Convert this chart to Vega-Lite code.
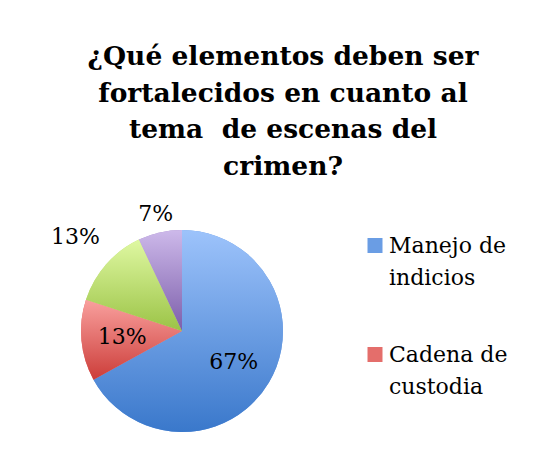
{
  "$schema": "https://vega.github.io/schema/vega-lite/v6.json",
  "width": 202,
  "height": 202,
  "autosize": "none",
  "padding": {"left": 81, "top": 230, "right": 267, "bottom": 40},
  "background": "white",
  "title": {
    "text": ["¿Qué elementos deben ser", "fortalecidos en cuanto al", "tema \u00a0de escenas del", "crimen?"],
    "font": "DejaVu Serif",
    "fontSize": 26.5,
    "fontWeight": "bold",
    "color": "black",
    "lineHeight": 36.5,
    "anchor": "middle",
    "frame": "group",
    "dx": 101,
    "offset": 1
  },
  "data": {
    "values": [
      {"cat": "Manejo de indicios", "pct": 67, "ord": 1, "label": "67%"},
      {"cat": "Cadena de custodia", "pct": 13, "ord": 2, "label": "13%"},
      {"cat": "Capacitación", "pct": 13, "ord": 3, "label": "13%"},
      {"cat": "Equipamiento", "pct": 7, "ord": 4, "label": "7%"}
    ]
  },
  "config": {
    "view": {"stroke": null},
    "style": {"guide-label": {"lineHeight": 32}}
  },
  "encoding": {
    "theta": {"field": "pct", "type": "quantitative", "stack": true},
    "order": {"field": "ord", "type": "quantitative"}
  },
  "layer": [
    {
      "mark": {"type": "arc", "stroke": null},
      "encoding": {
        "color": {
          "field": "cat",
          "type": "nominal",
          "sort": ["Manejo de indicios", "Cadena de custodia", "Capacitación", "Equipamiento"],
          "scale": {
            "domain": ["Manejo de indicios", "Cadena de custodia", "Capacitación", "Equipamiento"],
            "range": ["#6A9DE4", "#E46E6B", "#BDDD74", "#A58BCB"]
          },
          "legend": {
            "title": null,
            "values": ["Manejo de indicios", "Cadena de custodia"],
            "orient": "none",
            "legendX": 283,
            "legendY": 12,
            "symbolType": "M-1,-2L1,-2L1,0L-1,0Z",
            "symbolSize": 225,
            "symbolStrokeWidth": 0,
            "symbolOpacity": 1,
            "labelFont": "DejaVu Serif",
            "labelFontSize": 22,
            "labelColor": "black",
            "labelOffset": 3,
            "labelLimit": 300,
            "rowPadding": 55,
            "labelBaseline": "alphabetic",
            "labelExpr": "datum.label == 'Manejo de indicios' ? ['Manejo de', 'indicios'] : ['Cadena de', 'custodia']",
            "encode": {"labels": {"update": {"lineHeight": {"value": 32}}}}
          }
        }
      }
    },
    {
      "mark": {"type": "arc", "stroke": null, "fill": {"gradient": "linear", "x1": 0, "y1": 0, "x2": 0, "y2": 1, "stops": [{"offset": 0, "color": "#9DC3FB"}, {"offset": 1, "color": "#3A78CB"}]}},
      "encoding": {"opacity": {"condition": {"test": "datum.ord == 1", "value": 1}, "value": 0}}
    },
    {
      "mark": {"type": "arc", "stroke": null, "fill": {"gradient": "linear", "x1": 0, "y1": 0, "x2": 0, "y2": 1, "stops": [{"offset": 0, "color": "#F9A09E"}, {"offset": 1, "color": "#CC3D39"}]}},
      "encoding": {"opacity": {"condition": {"test": "datum.ord == 2", "value": 1}, "value": 0}}
    },
    {
      "mark": {"type": "arc", "stroke": null, "fill": {"gradient": "linear", "x1": 0, "y1": 0, "x2": 0, "y2": 1, "stops": [{"offset": 0, "color": "#DFF8A2"}, {"offset": 1, "color": "#9BC346"}]}},
      "encoding": {"opacity": {"condition": {"test": "datum.ord == 3", "value": 1}, "value": 0}}
    },
    {
      "mark": {"type": "arc", "stroke": null, "fill": {"gradient": "linear", "x1": 0, "y1": 0, "x2": 0, "y2": 1, "stops": [{"offset": 0, "color": "#CDB9EA"}, {"offset": 1, "color": "#7C5EAA"}]}},
      "encoding": {"opacity": {"condition": {"test": "datum.ord == 4", "value": 1}, "value": 0}}
    },
    {
      "mark": {"type": "text", "radius": 60, "font": "DejaVu Serif", "fontSize": 22, "color": "black"},
      "encoding": {"text": {"condition": {"test": "datum.ord <= 2", "field": "label"}, "value": ""}}
    },
    {
      "mark": {"type": "text", "radius": 142, "font": "DejaVu Serif", "fontSize": 22, "color": "black"},
      "encoding": {"text": {"condition": {"test": "datum.ord == 3", "field": "label"}, "value": ""}}
    },
    {
      "mark": {"type": "text", "radius": 120, "font": "DejaVu Serif", "fontSize": 22, "color": "black"},
      "encoding": {"text": {"condition": {"test": "datum.ord == 4", "field": "label"}, "value": ""}}
    }
  ]
}
